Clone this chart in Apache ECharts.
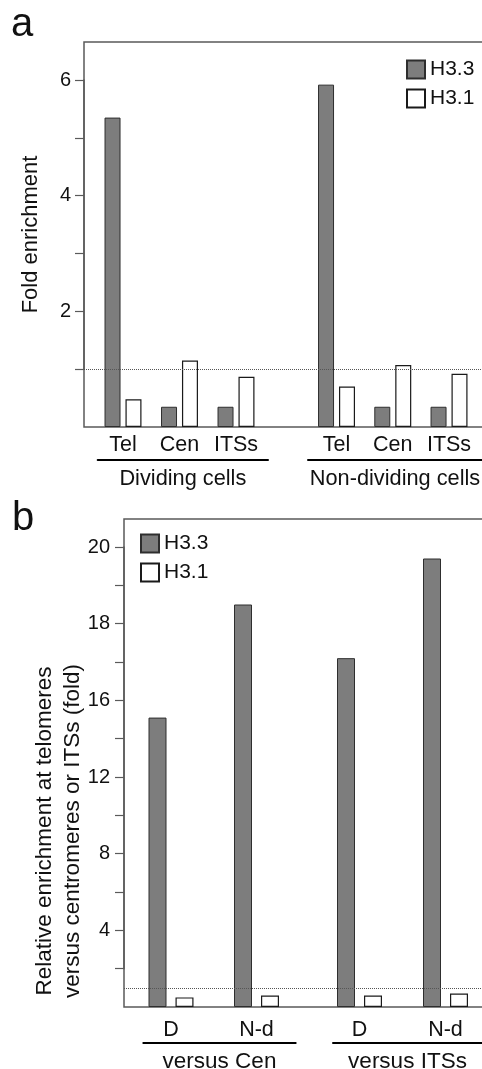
<!DOCTYPE html>
<html><head><meta charset="utf-8">
<script src="https://cdn.jsdelivr.net/npm/echarts@6/dist/echarts.min.js"></script>
<style>html,body{margin:0;padding:0;background:#fff}#c{width:482px;height:1069px}</style>
</head><body><div id="c"></div>
<script>
// ---------- Data ----------
const seriesNames = ['H3.3', 'H3.1'];

const panelACategories = ['Tel', 'Cen', 'ITSs'];
const panelAGroups = ['Dividing cells', 'Non-dividing cells'];
const dividingH33 = [5.35, 0.35, 0.35];
const dividingH31 = [0.48, 1.15, 0.87];
const nonDividingH33 = [5.92, 0.35, 0.35];
const nonDividingH31 = [0.70, 1.07, 0.92];
const panelAYLabels = [2, 4, 6];
const panelAYName = 'Fold enrichment';

const panelBCategories = ['D', 'N-d'];
const panelBGroups = ['versus Cen', 'versus ITSs'];
const versusCenH33 = [15.1, 18.5];
const versusCenH31 = [0.5, 0.6];
const versusITSsH33 = [17.1, 19.7];
const versusITSsH31 = [0.6, 0.7];
const panelBYLabels = [4, 8, 12, 16, 18, 20];
const panelBYName = 'Relative enrichment at telomeres\nversus centromeres or ITSs (fold)';

const referenceLevel = 1;

// Panel b axis is stretched 2x above 16 (as in the original figure)
const B_BREAK = 16, B_STRETCH = 2;
const toB = v => v <= B_BREAK ? v : B_BREAK + (v - B_BREAK) * B_STRETCH;
const fromB = t => t <= B_BREAK ? t : B_BREAK + (t - B_BREAK) / B_STRETCH;

// ---------- Style ----------
const FONT = '"Liberation Sans", Arial, Helvetica, sans-serif';
const INK = '#111';
const FRAME = '#5a5a5a';
const GRAY = '#7d7d7d';

const grids = [], xAxes = [], yAxes = [], series = [];
function addGrid(g, x, y) {
  grids.push(Object.assign({ outerBoundsMode: 'none', containLabel: false }, g));
  const i = grids.length - 1;
  xAxes.push(Object.assign({ gridIndex: i }, x));
  yAxes.push(Object.assign({ gridIndex: i }, y));
  return i;
}
const hiddenX = { type: 'value', show: false, min: 0, max: 1 };
const hiddenY = (min, max) => ({ type: 'value', show: false, min, max });
const nameOnlyY = (min, max, name, gap, fs, lh) => ({
  type: 'value', min, max, show: true,
  axisLine: { show: false }, axisTick: { show: false }, axisLabel: { show: false }, splitLine: { show: false },
  name, nameLocation: 'middle', nameGap: gap,
  nameTextStyle: { fontSize: fs, lineHeight: lh, color: INK, fontFamily: FONT }
});
const tickY = (min, max, interval, fmt, margin) => ({
  type: 'value', min, max, interval,
  axisLine: { show: true, lineStyle: { color: FRAME, width: 1.5 } },
  axisTick: { show: true, length: 9, lineStyle: { color: FRAME, width: 1.2 } },
  axisLabel: { margin, fontSize: 20, color: INK, fontFamily: FONT, formatter: fmt },
  splitLine: { show: false }
});
const catX = (data, margin, fs) => ({
  type: 'category', data,
  axisLine: { show: false, onZero: false }, axisTick: { show: false },
  axisLabel: { margin, fontSize: fs, color: INK, fontFamily: FONT, interval: 0 }
});
const groupX = (label, offset, margin, fs) => ({
  type: 'category', data: [label], offset,
  axisLine: { show: true, onZero: false, lineStyle: { color: '#000', width: 2 } },
  axisTick: { show: false },
  axisLabel: { margin, fontSize: fs, color: INK, fontFamily: FONT }
});
function refLine(gi) {
  series.push({
    type: 'line', xAxisIndex: gi, yAxisIndex: gi, data: [], z: 1, silent: true,
    markLine: {
      silent: true, symbol: 'none', animation: false, label: { show: false },
      lineStyle: { type: 'dotted', color: '#555', width: 1 },
      data: [{ yAxis: referenceLevel }]
    }
  });
}
function bars(gi, h33, h31, bw, gap) {
  series.push({
    name: seriesNames[0], type: 'bar', xAxisIndex: gi, yAxisIndex: gi, data: h33, z: 3,
    barWidth: bw, barGap: gap,
    itemStyle: { color: GRAY, borderColor: '#2e2e2e', borderWidth: 1 }
  });
  series.push({
    name: seriesNames[1], type: 'bar', xAxisIndex: gi, yAxisIndex: gi, data: h31, z: 3,
    barWidth: bw, barGap: gap,
    itemStyle: { color: '#fff', borderColor: '#1a1a1a', borderWidth: 1.2 }
  });
}

// ---------- Panel a ----------
const A_TOP = 80, A_BOTTOM = 427, A_MAX = 6;
const aUnit = (A_BOTTOM - A_TOP) / A_MAX;
const faIdx = addGrid(
  { left: 84, top: 42, right: -30, height: A_BOTTOM - 42, show: true, borderColor: FRAME, borderWidth: 1.5 },
  hiddenX, nameOnlyY(0, (A_BOTTOM - 42) / aUnit, panelAYName, 40, 22, 26));
refLine(faIdx);
addGrid({ left: 84, top: A_TOP, right: -30, height: aUnit * (A_MAX - 1) },
  hiddenX, tickY(1, A_MAX, 1, v => panelAYLabels.includes(v) ? String(v) : '', 13));
const a1 = addGrid({ left: 94.75, top: A_TOP, width: 169.5, height: A_BOTTOM - A_TOP },
  catX(panelACategories, 7, 21.5), hiddenY(0, A_MAX));
bars(a1, dividingH33, dividingH31, 16, '31%');
const a2 = addGrid({ left: 308.4, top: A_TOP, width: 168.75, height: A_BOTTOM - A_TOP },
  catX(panelACategories, 7, 21.5), hiddenY(0, A_MAX));
bars(a2, nonDividingH33, nonDividingH31, 16, '31%');
addGrid({ left: 97.7, top: A_TOP, width: 170.3, height: A_BOTTOM - A_TOP },
  groupX(panelAGroups[0], 33, 8, 21.75), hiddenY(0, A_MAX));
addGrid({ left: 308, top: A_TOP, right: 0, height: A_BOTTOM - A_TOP },
  groupX(panelAGroups[1], 33, 8, 21.75), hiddenY(0, A_MAX));

// ---------- Panel b ----------
const B_TOP = 547, B_BOTTOM = 1007, B_MAX = toB(20);
const bUnit = (B_BOTTOM - B_TOP) / B_MAX;
const fbIdx = addGrid(
  { left: 124, top: 519, right: -30, height: B_BOTTOM - 519, show: true, borderColor: FRAME, borderWidth: 1.5 },
  hiddenX, hiddenY(0, (B_BOTTOM - 519) / bUnit));
refLine(fbIdx);
addGrid({ left: 124, top: B_TOP, right: -30, height: bUnit * (B_MAX - 2) },
  hiddenX, tickY(2, B_MAX, 2, t => panelBYLabels.includes(fromB(t)) ? String(fromB(t)) : '', 14));
addGrid({ left: 124, top: 665, right: -30, height: 332 },
  hiddenX, nameOnlyY(0, 1, panelBYName, 37, 22.5, 28));
const b1 = addGrid({ left: 128.25, top: B_TOP, width: 171, height: B_BOTTOM - B_TOP },
  catX(panelBCategories, 12, 21.5), hiddenY(0, B_MAX));
bars(b1, versusCenH33.map(toB), versusCenH31.map(toB), 18, '50%');
const b2 = addGrid({ left: 316.5, top: B_TOP, width: 172, height: B_BOTTOM - B_TOP },
  catX(panelBCategories, 12, 21.5), hiddenY(0, B_MAX));
bars(b2, versusITSsH33.map(toB), versusITSsH31.map(toB), 18, '50%');
addGrid({ left: 143.3, top: B_TOP, width: 152.4, height: B_BOTTOM - B_TOP },
  groupX(panelBGroups[0], 36, 7, 22.5), hiddenY(0, B_MAX));
addGrid({ left: 333, top: B_TOP, right: 0, height: B_BOTTOM - B_TOP },
  groupX(panelBGroups[1], 36, 7, 22.5), hiddenY(0, B_MAX));

const legendBase = {
  data: seriesNames, orient: 'vertical', itemWidth: 18, itemHeight: 18, itemGap: 8,
  icon: 'rect', selectedMode: false, padding: 0,
  textStyle: { fontSize: 21, color: INK, fontFamily: FONT }
};
const titleStyle = { fontSize: 40, fontWeight: 'normal', color: INK, fontFamily: FONT };

const chart = echarts.init(document.getElementById('c'), null, { renderer: 'canvas' });
chart.setOption({
  animation: false,
  backgroundColor: '#fff',
  title: [
    { text: 'a', left: 11, top: 5, padding: 0, textStyle: titleStyle },
    { text: 'b', left: 12, top: 499, padding: 0, textStyle: titleStyle }
  ],
  legend: [
    Object.assign({}, legendBase, { left: 406, top: 59 }),
    Object.assign({}, legendBase, { left: 140, top: 533 })
  ],
  grid: grids, xAxis: xAxes, yAxis: yAxes, series
});
</script></body></html>
